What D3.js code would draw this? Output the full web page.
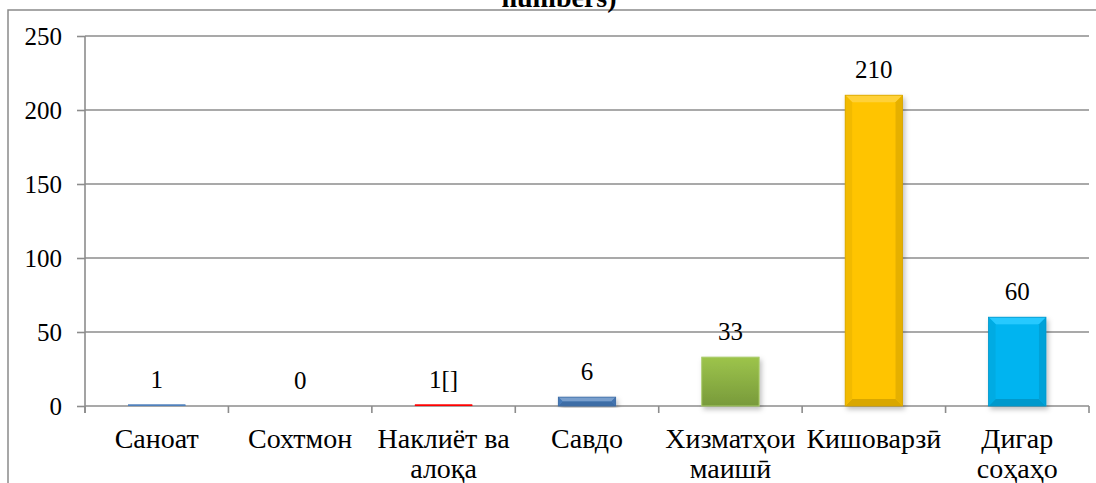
<!DOCTYPE html>
<html><head><meta charset="utf-8">
<script src="https://cdn.jsdelivr.net/npm/d3@7"></script>
<style>
html,body{margin:0;padding:0;background:#fff;overflow:hidden}
svg text{font-family:"Liberation Serif","Times New Roman",Times,"DejaVu Serif",serif;fill:#000}
</style></head>
<body><svg id="c" width="1096" height="483"></svg>
<script>
const categories = [["Саноат"],["Сохтмон"],["Наклиёт ва","алоқа"],["Савдо"],["Хизматҳои","маишӣ"],["Кишоварзӣ"],["Дигар","соҳаҳо"]];
const values = [1, 0, 1, 6, 33, 210, 60];
const valueLabels = ["1","0","1[]","6","33","210","60"];
const colors = ["#4F81BD","#4F81BD","#FF0000","#4F81BD","#9BBB59","#FFC400","#00B4F0"];
const yTicks = [0, 50, 100, 150, 200, 250];
const titleText = "numbers)";

const svg = d3.select("#c");
const W = 1096, H = 483;
const m = {left: 85, right: 1089, top: 36, bottom: 406};
const FONT = '"Liberation Serif","Times New Roman",Times,"DejaVu Serif",serif';

const x = d3.scaleBand().domain(d3.range(values.length)).range([m.left, m.right]).paddingInner(0.6).paddingOuter(0.3);
const y = d3.scaleLinear().domain([0, 250]).range([m.bottom, m.top]);

const defs = svg.append("defs");
const f = defs.append("filter").attr("id","sh").attr("x","-20%").attr("y","-20%").attr("width","140%").attr("height","140%");
f.append("feDropShadow").attr("dx",2).attr("dy",3).attr("stdDeviation",2.5).attr("flood-color","#000").attr("flood-opacity",0.25);
const gg = defs.append("linearGradient").attr("id","gGreen").attr("x1",0).attr("y1",0).attr("x2",0).attr("y2",1);
gg.append("stop").attr("offset","0%").attr("stop-color","#9DC44B");
gg.append("stop").attr("offset","100%").attr("stop-color","#789A3B");

// frame
svg.append("rect").attr("x",8).attr("y",10).attr("width",W+20).attr("height",H+20)
  .attr("fill","none").attr("stroke","#8a8a8a").attr("stroke-width",1.5);

// title (clipped at top, as in the reference)
svg.append("text").attr("x",559).attr("y",7).attr("text-anchor","middle")
  .style("font-weight","bold").style("font-size","28px").style("font-family",FONT).text(titleText);

// gridlines
svg.append("g").selectAll("line").data(yTicks.filter(d=>d>0)).join("line")
  .attr("x1",m.left).attr("x2",m.right).attr("y1",d=>y(d)).attr("y2",d=>y(d))
  .attr("stroke","#8c8c8c").attr("stroke-width",1.6);

// y axis
const ya = svg.append("g").attr("transform",`translate(${m.left},0)`)
  .call(d3.axisLeft(y).tickValues(yTicks).tickSize(8).tickPadding(15).tickFormat(d3.format("d")));
ya.attr("font-family", FONT).attr("font-size", 25);
ya.select(".domain").remove();
ya.selectAll(".tick line").attr("stroke","#8c8c8c").attr("stroke-width",1.6);
ya.selectAll(".tick text").style("font-size","25px").style("font-family",FONT).attr("fill","#000");
svg.append("line").attr("x1",m.left).attr("x2",m.left).attr("y1",y(250)).attr("y2",y(0)+7)
  .attr("stroke","#8c8c8c").attr("stroke-width",1.6);

// x axis baseline + boundary ticks
svg.append("line").attr("x1",m.left).attr("x2",m.right).attr("y1",y(0)).attr("y2",y(0))
  .attr("stroke","#8c8c8c").attr("stroke-width",1.6);
const bounds = d3.range(values.length+1).map(i => m.left + i*x.step());
svg.append("g").selectAll("line").data(bounds).join("line")
  .attr("x1",d=>d).attr("x2",d=>d).attr("y1",y(0)).attr("y2",y(0)+7)
  .attr("stroke","#8c8c8c").attr("stroke-width",1.6);

// bars
function shade(c, k){ const h = d3.hsl(c); return k>0 ? h.brighter(k).formatHex() : h.darker(-k).formatHex(); }
const bars = svg.append("g");
values.forEach((v,i)=>{
  if (v <= 0) return;
  const x0 = x(i), w = x.bandwidth(), y0 = y(v), h = y(0) - y(v);
  const g = bars.append("g").attr("filter", h > 4 ? "url(#sh)" : null);
  const c = colors[i];
  if (i === 4) {
    g.append("rect").attr("x",x0).attr("y",y0).attr("width",w).attr("height",h)
      .attr("fill","url(#gGreen)").attr("stroke","#A9CB6A").attr("stroke-width",1);
    return;
  }
  g.append("rect").attr("x",x0).attr("y",y0).attr("width",w).attr("height",h).attr("fill",c);
  if (h > 4) {
    const b = Math.min(7, h/2);
    const x1 = x0 + w, y1 = y0 + h;
    const poly = (pts, fill) => g.append("polygon").attr("points", pts.map(p=>p.join(",")).join(" ")).attr("fill", fill);
    poly([[x0,y0],[x1,y0],[x1-b,y0+b],[x0+b,y0+b]], shade(c,0.55));
    poly([[x0,y1],[x1,y1],[x1-b,y1-b],[x0+b,y1-b]], shade(c,-0.45));
    poly([[x0,y0],[x0+b,y0+b],[x0+b,y1-b],[x0,y1]], shade(c,-0.15));
    poly([[x1,y0],[x1-b,y0+b],[x1-b,y1-b],[x1,y1]], shade(c,-0.3));
    g.append("rect").attr("x",x0).attr("y",y0).attr("width",w).attr("height",h)
      .attr("fill","none").attr("stroke",shade(c,-0.5)).attr("stroke-width",0.8);
  } else {
    g.append("rect").attr("x",x0).attr("y",y0).attr("width",w).attr("height",Math.max(h,1.5)).attr("fill",c);
  }
});

// value labels
svg.append("g").selectAll("text").data(values).join("text")
  .attr("x",(d,i)=>x(i)+x.bandwidth()/2).attr("y",d=>y(d)-17)
  .attr("text-anchor","middle").style("font-size","25px").style("font-family",FONT).text((d,i)=>valueLabels[i]);

// category labels
const cl = svg.append("g").selectAll("text").data(categories).join("text")
  .attr("x",(d,i)=>x(i)+x.bandwidth()/2).attr("y",y(0)+42)
  .attr("text-anchor","middle").style("font-size","28px").style("font-family",FONT);
cl.each(function(lines){
  const t = d3.select(this);
  lines.forEach((s,j)=>t.append("tspan").attr("x",t.attr("x")).attr("dy", j===0?0:30).text(s));
});
</script></body></html>
